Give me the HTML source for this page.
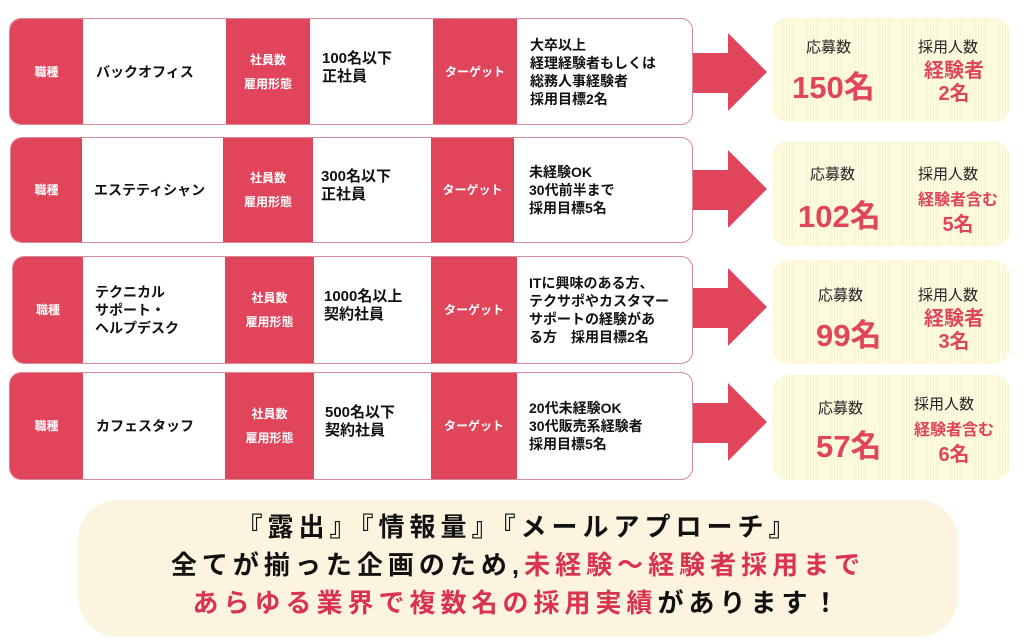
<!DOCTYPE html>
<html><head><meta charset="utf-8"><style>
*{margin:0;padding:0;box-sizing:border-box}
body{width:1024px;height:641px;background:#fff;position:relative;overflow:hidden;font-family:"Liberation Sans","Noto Sans CJK JP",sans-serif;font-weight:bold;color:#111}
.a{position:absolute}
.row{position:absolute;border:1.5px solid #d98a9a;border-radius:12px;background:#fff;overflow:hidden}
.r{position:absolute;top:0;bottom:0;background:#e0455b;color:#fff;display:flex;align-items:center;justify-content:center;font-size:12px;line-height:24px;text-align:center}
.w{position:absolute;top:0;bottom:0;display:flex;align-items:center;font-size:14px;line-height:18px}
.big{font-size:15px}
.y{position:absolute;border-radius:16px;background:repeating-linear-gradient(90deg,#fdfbe2 0 2px,#f8f4d0 2px 3px);}
.y .l{position:absolute;font-weight:normal;font-size:15px;color:#222}
.y .n{position:absolute;color:#e0455b;font-size:31px}
.y .m{position:absolute;color:#e0455b;font-size:19px;text-align:center;line-height:23px}
</style></head><body>

<div class="row" style="left:9px;top:18px;width:684px;height:107px">
<div class="r" style="left:0;width:73px">職種</div>
<div class="w" style="left:86px">バックオフィス</div>
<div class="r" style="left:216px;width:84px;flex-direction:column">社員数<br>雇用形態</div>
<div class="w big" style="left:312px;top:-8px">100名以下<br>正社員</div>
<div class="r" style="left:423px;width:84px">ターゲット</div>
<div class="w" style="left:520px">大卒以上<br>経理経験者もしくは<br>総務人事経験者<br>採用目標2名</div>
</div>
<div class="row" style="left:10px;top:137px;width:683px;height:106px">
<div class="r" style="left:0;width:71px">職種</div>
<div class="w" style="left:83px">エステティシャン</div>
<div class="r" style="left:212px;width:90px">社員数<br>雇用形態</div>
<div class="w big" style="left:310px;top:-8px">300名以下<br>正社員</div>
<div class="r" style="left:420px;width:83px">ターゲット</div>
<div class="w" style="left:518px">未経験OK<br>30代前半まで<br>採用目標5名</div>
</div>
<div class="row" style="left:12px;top:256px;width:681px;height:108px">
<div class="r" style="left:0;width:70px">職種</div>
<div class="w" style="left:82px">テクニカル<br>サポート・<br>ヘルプデスク</div>
<div class="r" style="left:212px;width:89px">社員数<br>雇用形態</div>
<div class="w big" style="left:311px;top:-8px">1000名以上<br>契約社員</div>
<div class="r" style="left:418px;width:86px">ターゲット</div>
<div class="w" style="left:516px">ITに興味のある方、<br>テクサポやカスタマー<br>サポートの経験があ<br>る方　採用目標2名</div>
</div>
<div class="row" style="left:9px;top:372px;width:684px;height:108px">
<div class="r" style="left:0;width:73px">職種</div>
<div class="w" style="left:86px">カフェスタッフ</div>
<div class="r" style="left:215px;width:89px">社員数<br>雇用形態</div>
<div class="w big" style="left:315px;top:-8px">500名以下<br>契約社員</div>
<div class="r" style="left:421px;width:86px">ターゲット</div>
<div class="w" style="left:519px">20代未経験OK<br>30代販売系経験者<br>採用目標5名</div>
</div>

<svg class="a" style="left:0;top:0" width="1024" height="641">
<g fill="#e0455b">
<polygon points="693,53 728,53 728,33 767,72 728,111 728,93 693,93"/>
<polygon points="693,170 728,170 728,150 767,189 728,228 728,210 693,210"/>
<polygon points="693,288 728,288 728,268 767,307 728,346 728,328 693,328"/>
<polygon points="693,403 728,403 728,383 767,422 728,461 728,443 693,443"/>
</g></svg>

<div class="y" style="left:772px;top:18px;width:238px;height:104px">
<div class="l" style="left:34px;top:18px">応募数</div><div class="l" style="left:146px;top:18px">採用人数</div>
<div class="n" style="left:20px;top:44px">150名</div>
<div class="m" style="left:136px;top:42px;width:92px;font-size:20px">経験者<br>2名</div></div>
<div class="y" style="left:772px;top:141px;width:238px;height:105px">
<div class="l" style="left:38px;top:22px">応募数</div><div class="l" style="left:146px;top:22px">採用人数</div>
<div class="n" style="left:26px;top:50px">102名</div>
<div class="m" style="left:136px;top:48px;width:100px;font-size:16px;line-height:24px">経験者含む<br><span style="font-size:20px">5名</span></div></div>
<div class="y" style="left:772px;top:260px;width:238px;height:104px">
<div class="l" style="left:46px;top:24px">応募数</div><div class="l" style="left:146px;top:24px">採用人数</div>
<div class="n" style="left:44px;top:50px">99名</div>
<div class="m" style="left:136px;top:48px;width:92px;font-size:20px">経験者<br>3名</div></div>
<div class="y" style="left:772px;top:375px;width:238px;height:105px">
<div class="l" style="left:46px;top:22px">応募数</div><div class="l" style="left:142px;top:18px">採用人数</div>
<div class="n" style="left:44px;top:46px">57名</div>
<div class="m" style="left:132px;top:44px;width:100px;font-size:16px;line-height:24px">経験者含む<br><span style="font-size:20px">6名</span></div></div>

<div class="a" style="left:78px;top:500px;width:880px;height:137px;border-radius:40px;background:#fdf4e0"></div>
<div class="a" style="left:58px;top:508px;width:920px;text-align:center;font-size:26px;line-height:38px;letter-spacing:5px;font-weight:bold;color:#111">
『露出』『情報量』『メールアプローチ』<br>
全てが揃った企画のため,<span style="color:#d9334f">未経験～経験者採用まで</span><br>
<span style="color:#d9334f">あらゆる業界で複数名の採用実績</span>があります！
</div>
</body></html>
